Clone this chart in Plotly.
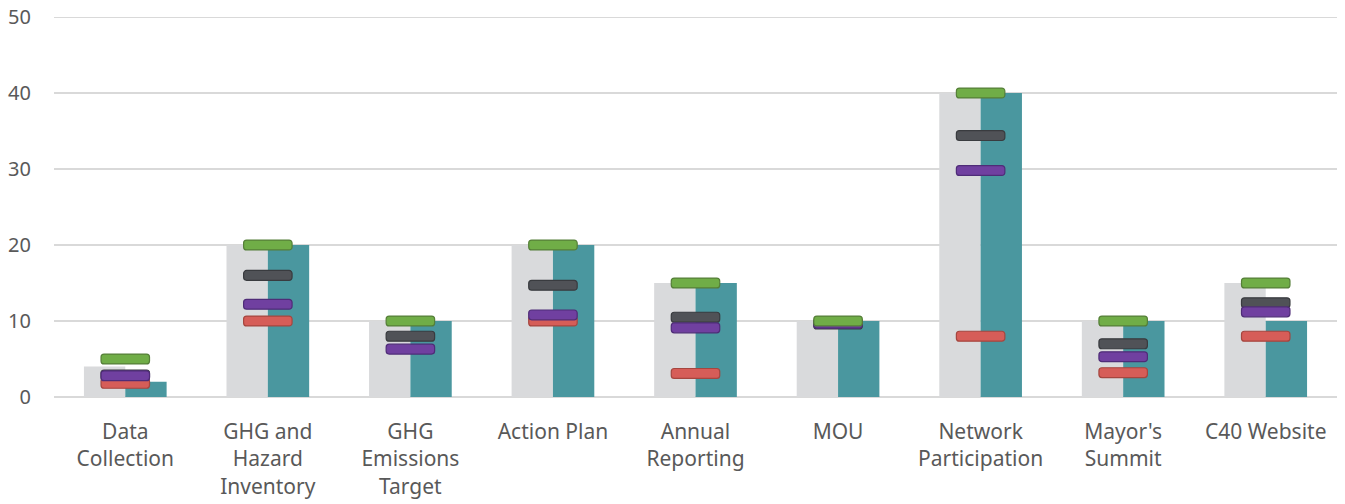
import plotly.graph_objects as go

categories = ["Data<br>Collection", "GHG and<br>Hazard<br>Inventory", "GHG<br>Emissions<br>Target",
              "Action Plan", "Annual<br>Reporting", "MOU", "Network<br>Participation",
              "Mayor's<br>Summit", "C40 Website"]
grey_values = [4, 20, 10, 20, 15, 10, 40, 10, 15]
teal_values = [2, 20, 10, 20, 15, 10, 40, 10, 10]
red_values = [1.8, 10, None, 10, 3.1, None, 8, 3.2, 8]
dark_values = [2.9, 16, 8, 14.7, 10.5, 9.6, 34.4, 7, 12.4]
purple_values = [2.8, 12.2, 6.3, 10.8, 9.1, 9.7, 29.8, 5.3, 11.2]
green_values = [5, 20, 10, 20, 15, 10, 40, 10, 15]
y_ticks = [0, 10, 20, 30, 40, 50]

BAR_W = 0.29
MARK_W = 0.34
MARK_H = 1.3

fig = go.Figure()
fig.add_trace(go.Bar(x=categories, y=grey_values, width=BAR_W, offset=-BAR_W,
                     marker=dict(color="#d9dadc", line=dict(width=0)), name="grey"))
fig.add_trace(go.Bar(x=categories, y=teal_values, width=BAR_W, offset=0,
                     marker=dict(color="#4a979f", line=dict(width=0)), name="teal"))

markers = [
    (red_values, "#d65d58", "#a5463f"),
    (dark_values, "#505257", "#393b3f"),
    (purple_values, "#7040a0", "#4f2c78"),
    (green_values, "#70ad47", "#557f38"),
]
for vals, col, edge in markers:
    cats = [c for c, v in zip(categories, vals) if v is not None]
    vs = [v for v in vals if v is not None]
    fig.add_trace(go.Bar(
        x=cats, y=[MARK_H] * len(vs), base=[v - MARK_H / 2 for v in vs],
        width=MARK_W, offset=-MARK_W / 2,
        marker=dict(color=col, line=dict(color=edge, width=1.2), cornerradius=3),
    ))

fig.update_layout(
    width=1345, height=504,
    margin=dict(l=54, r=8, t=17, b=107),
    barmode="overlay",
    showlegend=False,
    plot_bgcolor="white", paper_bgcolor="white",
    font=dict(family="Noto Sans", size=21, color="#595959"),
)
# top gridline at the range edge (plotly omits grid lines on the plot edge)
fig.add_shape(type="line", xref="paper", x0=0, x1=1, yref="y", y0=y_ticks[-1], y1=y_ticks[-1],
              line=dict(color="#d9d9d9", width=2), layer="below")
fig.update_xaxes(showgrid=False, showline=False, ticks="", ticklabelstandoff=20, automargin=False,
                 tickfont=dict(size=21, color="#595959"))
fig.update_yaxes(range=[0, 50], tickvals=y_ticks, showgrid=True, gridcolor="#d9d9d9", gridwidth=2,
                 zeroline=True, zerolinecolor="#d9d9d9", zerolinewidth=2, showline=False, automargin=False,
                 ticks="", ticklabelstandoff=22, tickfont=dict(size=20, color="#595959"))

# remove the default 8px page margin so the figure fills the window exactly
fig.write_html("out.html", config={"displayModeBar": False},
               post_script="document.body.style.margin='0px';")
